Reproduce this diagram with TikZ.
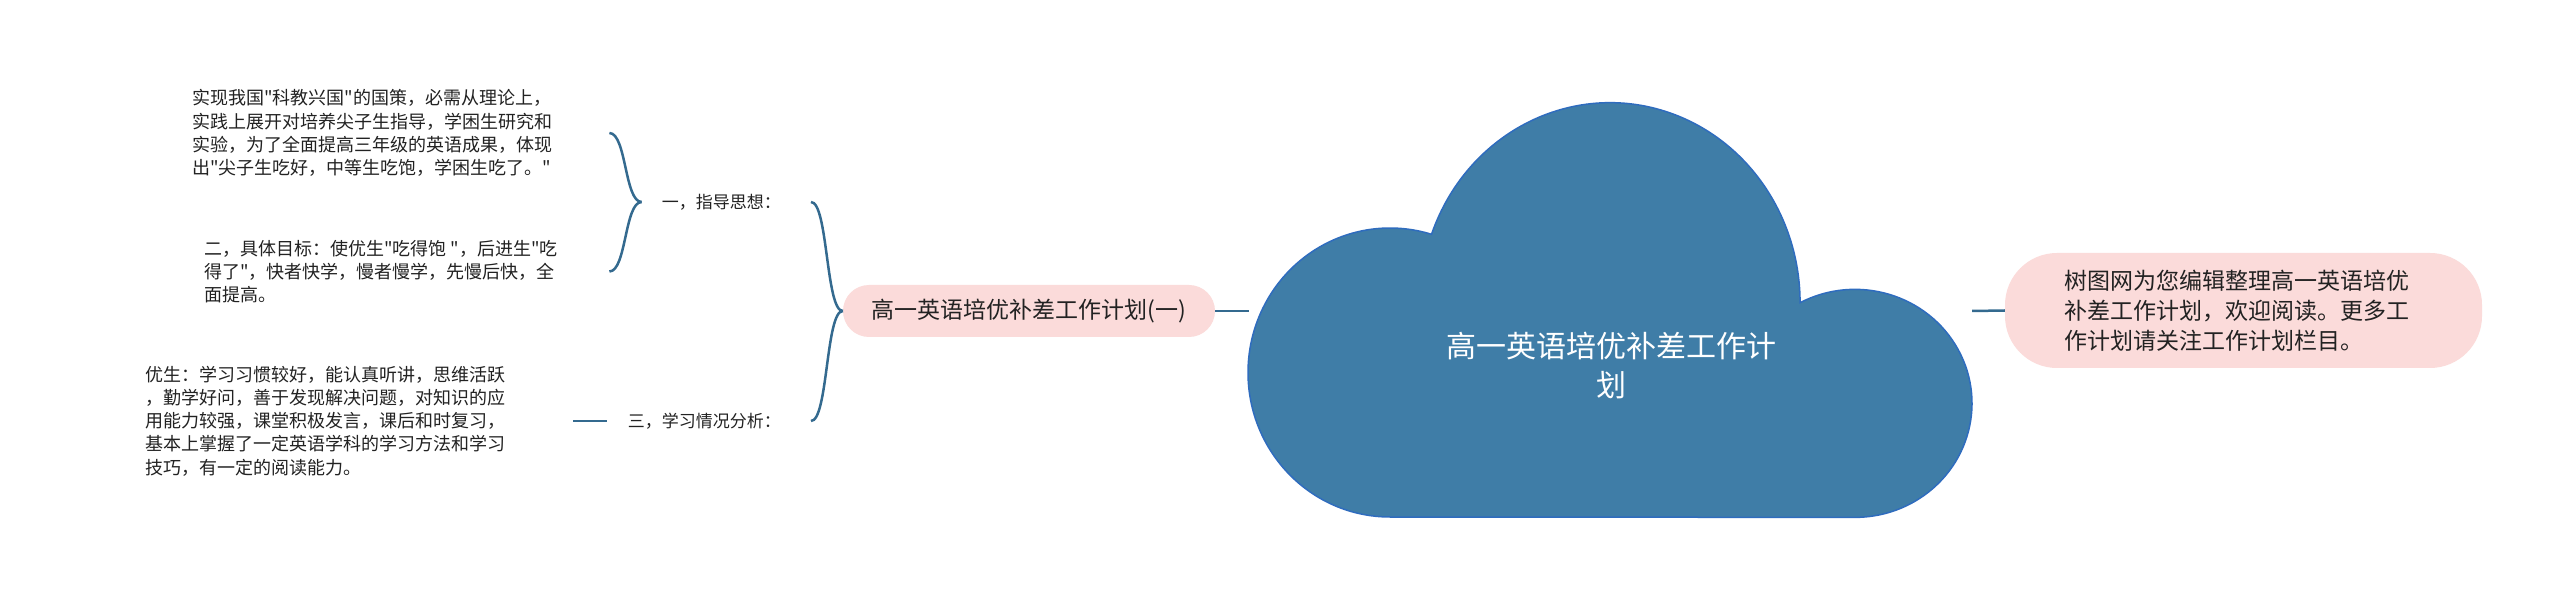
\documentclass[tikz,border=0pt]{standalone}
\usepackage{fontspec}
\newfontfamily\cjkfont{Noto Sans CJK SC}
\usetikzlibrary{calc}
\definecolor{pinkfill}{RGB}{251,219,218}
\definecolor{cloudfill}{RGB}{63,125,167}
\definecolor{cloudedge}{RGB}{47,108,190}
\definecolor{linecol}{RGB}{52,106,143}
\definecolor{txt}{RGB}{34,34,34}
\begin{document}
\begin{tikzpicture}[x=1pt,y=1pt,
  conn/.style={draw=linecol, line width=2.5pt},
  capsule/.style={fill=pinkfill, draw=none, text=txt},
  leaf/.style={inner sep=0pt, align=left, text=txt, anchor=west, font=\cjkfont\fontsize{18pt}{23.3pt}\selectfont},
  lvl/.style={inner sep=0pt, text=txt, anchor=east, font=\cjkfont\fontsize{17pt}{20pt}\selectfont}]
\useasboundingbox (0,0) rectangle (2560,595);
\fill[white] (0,0) rectangle (2560,595);

% cloud
\filldraw[fill=cloudfill, draw=cloudedge, line width=1.5pt]
  (1390,78) arc[start angle=270, end angle=73, x radius=142, y radius=144.5]
  arc[start angle=160, end angle=0, x radius=190, y radius=200]
  arc[start angle=118, end angle=-90, x radius=117, y radius=114]
  -- cycle;
\node[text=white, align=center, font=\cjkfont\fontsize{30pt}{39.5pt}\selectfont] (root) at (1611,229.5) {高一英语培优补差工作计\\划};
\coordinate (cloudL) at (1249,284);
\coordinate (cloudR) at (1972,284);

% right node
\node[capsule, rounded corners=52pt, minimum width=477pt, minimum height=115pt,
      text width=359pt, align=left, font=\cjkfont\fontsize{23pt}{30pt}\selectfont] (intro) at (2243.5,284.5)
  {树图网为您编辑整理高一英语培优\\补差工作计划，欢迎阅读。更多工\\作计划请关注工作计划栏目。};

% main branch
\node[capsule, rounded corners=26pt, minimum width=372pt, minimum height=52pt,
      font=\cjkfont\fontsize{23pt}{28pt}\selectfont] (main) at (1029,284) {高一英语培优补差工作计划(一)};

\draw[conn] (main.east) -- (cloudL);
\draw[conn] (cloudR) -- (intro.west);

% level 1
\node[lvl] (l1a) at (781,393) {一，指导思想：};
\node[lvl] (l1b) at (781,174) {三，学习情况分析：};

% leaves
\node[leaf] (t1) at (192,462) {实现我国"科教兴国"的国策，必需从理论上，\\实践上展开对培养尖子生指导，学困生研究和\\实验，为了全面提高三年级的英语成果，体现\\出"尖子生吃好，中等生吃饱，学困生吃了。"};
\node[leaf] (t2) at (204,323.5) {二，具体目标：使优生"吃得饱 "，后进生"吃\\得了"，快者快学，慢者慢学，先慢后快，全\\面提高。};
\node[leaf] (t3) at (145,174) {优生：学习习惯较好，能认真听讲，思维活跃\\，勤学好问，善于发现解决问题，对知识的应\\用能力较强，课堂积极发言，课后和时复习，\\基本上掌握了一定英语学科的学习方法和学习\\技巧，有一定的阅读能力。};

% braces
\draw[conn] (main.west) .. controls +(-17,0) and +(17,0) .. ([xshift=30pt]l1a.east);
\draw[conn] (main.west) .. controls +(-17,0) and +(17,0) .. ([xshift=30pt]l1b.east);
\coordinate (bxB) at ([xshift=57pt]t1.east);
\draw[conn] ([xshift=-20pt]l1a.west) .. controls +(-17,0) and +(17,0) .. (bxB);
\draw[conn] ([xshift=-20pt]l1a.west) .. controls +(-17,0) and +(17,0) .. (t2.east -| bxB);
\draw[conn] ([xshift=-21pt]l1b.west) -- ([xshift=68pt]t3.east);
\end{tikzpicture}
\end{document}
